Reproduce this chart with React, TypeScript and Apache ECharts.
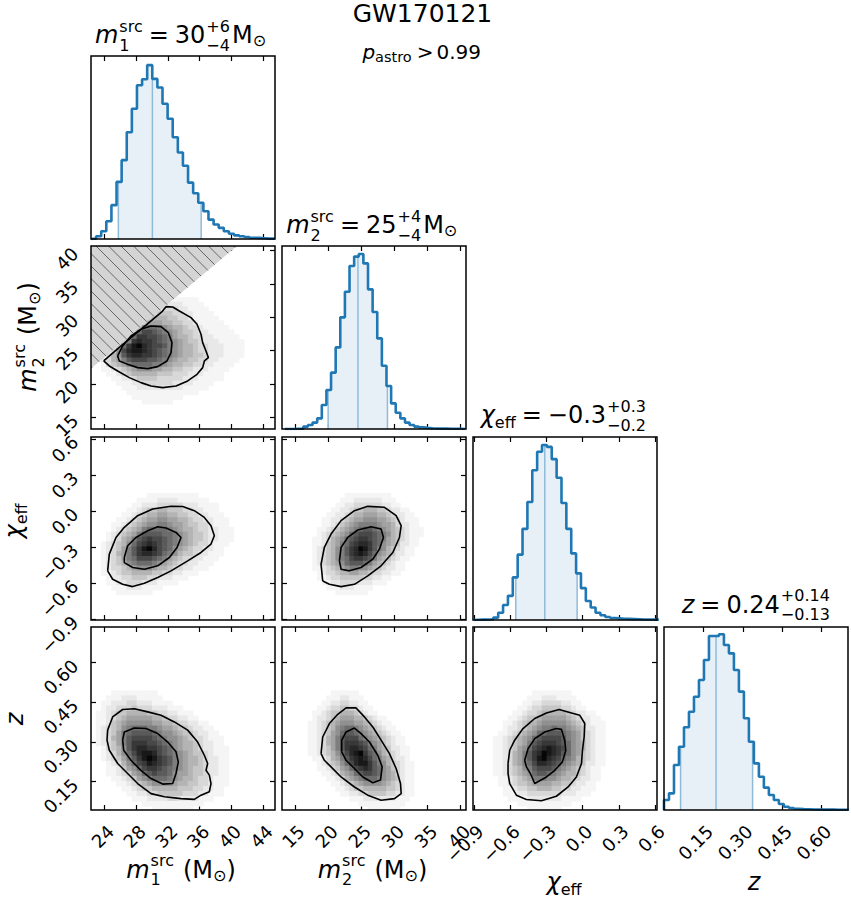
import React, { useEffect, useRef } from 'react';
import * as echarts from 'echarts';

// ---------------- axis ranges and ticks ----------------
const m1Range = [22.3, 45.5];
const m2RangeX = [13.04, 40.8];
const m2RangeY = [13.24, 40.7];
const chiRange = [-0.907, 0.616];
const zRangeX = [0.0, 0.7];
const zRangeY = [0.043, 0.735];

const m1Ticks = [24, 28, 32, 36, 40, 44];
const m2Ticks = [15, 20, 25, 30, 35, 40];
const chiTicks = [-0.9, -0.6, -0.3, 0.0, 0.3, 0.6];
const zTicks = [0.15, 0.3, 0.45, 0.6];

// ---------------- 1-D marginal histograms (height as fraction of panel) ----------------
const m1Bins = [22.3, 0.644]; // first edge, bin width
const m1Hist = [0.002, 0.015, 0.042, 0.097, 0.185, 0.312, 0.431, 0.583, 0.712, 0.84, 0.873, 0.95, 0.875, 0.828, 0.739, 0.657, 0.556, 0.473, 0.4, 0.308, 0.25, 0.198, 0.152, 0.106, 0.079, 0.061, 0.042, 0.029, 0.02, 0.015, 0.011, 0.007, 0.006, 0.004, 0.002, 0.002];
const m2Bins = [13.47, 0.697];
const m2Hist = [0, 0, 0.001, 0.002, 0.013, 0.022, 0.035, 0.058, 0.131, 0.213, 0.308, 0.446, 0.61, 0.75, 0.891, 0.942, 0.956, 0.905, 0.763, 0.639, 0.495, 0.346, 0.235, 0.14, 0.089, 0.058, 0.035, 0.022, 0.013, 0.009, 0.006, 0.004, 0.003, 0.002, 0.002, 0.001, 0.001, 0.001, 0.0];
const chiBins = [-0.9, 0.0403];
const chiHist = [0.001, 0.002, 0.003, 0.004, 0.013, 0.04, 0.082, 0.132, 0.233, 0.357, 0.498, 0.645, 0.818, 0.919, 0.956, 0.946, 0.879, 0.777, 0.639, 0.498, 0.364, 0.255, 0.174, 0.104, 0.068, 0.04, 0.026, 0.016, 0.011, 0.009, 0.007, 0.006, 0.005, 0.004, 0.003, 0.003, 0.002, 0.002];
const zBins = [0.0, 0.019];
const zHist = [0.055, 0.091, 0.246, 0.346, 0.452, 0.537, 0.619, 0.71, 0.82, 0.951, 0.951, 0.96, 0.902, 0.856, 0.765, 0.647, 0.501, 0.373, 0.255, 0.182, 0.122, 0.082, 0.055, 0.033, 0.018, 0.011, 0.007, 0.005, 0.004, 0.003, 0.003, 0.002, 0.002, 0.002, 0.001, 0.001, 0.001];

// lower 90% bound, median, upper 90% bound
const m1Interval = [25.75, 30.04, 36.19];
const m2Interval = [20.0, 24.5, 28.95];
const chiInterval = [-0.553, -0.313, -0.045];
const zInterval = [0.063, 0.198, 0.337];

// ---------------- 2-D densities (hex digit = grey level; first row = top bin row) ----------------
const m1m2Origin = [1, 27]; // first column bin index, top row bin index
const m1m2Density = [
  '00000000000000011111000000000',
  '00000000000001222111100000000',
  '00000000000023332211110000000',
  '00000000000344433221111000000',
  '00000000004555443321111100000',
  '00000000046665544332111110000',
  '00000000589987655433211111000',
  '000000059bba98765443221111100',
  '00000049ccbba9865543322111110',
  '0000048cdccba9876544322211111',
  '000049cefdcbba876554332221111',
  '00037bdeedcba9876554332221111',
  '00357acddccba9876554432221111',
  '023568abbbaa98765544332211110',
  '01345689999887655443322111100',
  '01123456777665544332221111000',
  '00112345555544433322211110000',
  '00011223444433333222111110000',
  '00001112233333322221111000000',
  '00000111222222222111110000000',
  '00000011111111111111000000000',
  '00000001111111111000000000000',
  '00000000011111100000000000000',
];
const m1chiOrigin = [1, 25];
const m1chiDensity = [
  '00000000001111111111000000000',
  '00000000111122221111110000000',
  '00000001122233333222111100000',
  '00000011234455444332211100000',
  '00000112345566554433221110000',
  '00001123456677665543322111000',
  '00011234567788766544332111000',
  '00012345689999876554332211100',
  '001234568aaaa9987654432211100',
  '00123568abcbba987654432211100',
  '01234579bcdcba987654332111000',
  '0123468acefdba976543322110000',
  '0123568acddcb9875443221110000',
  '01234689bbba98654332211100000',
  '01234578999876543322111000000',
  '01233456777655433221110000000',
  '01123445555443322111000000000',
  '00122334443322211100000000000',
  '00112233322211110000000000000',
  '00011122211110000000000000000',
  '00001111111000000000000000000',
];
const m2chiOrigin = [5, 25];
const m2chiDensity = [
  '00000000111111111100000000',
  '00000001112222221110000000',
  '00000011223333332211000000',
  '00000112234455544322110000',
  '00001122345566655432211000',
  '00011223456677766543211100',
  '00011234567888876653221100',
  '001123456789aa987654321110',
  '0012345679abbba98754321110',
  '011235679abccba98654321100',
  '011245689bcddca97654221100',
  '01234578acdfeca87543211000',
  '01234578acdedb976542211000',
  '012345789bccba865432110000',
  '012345679aaa98654321100000',
  '01123456788776543221100000',
  '00123345566554332211000000',
  '00112334444433221100000000',
  '00011223333222111000000000',
  '00001112221111000000000000',
  '00000011111110000000000000',
];
const m1zOrigin = [1, 25];
const m1zDensity = [
  '00011111111100000000000000000',
  '00111222111110000000000000000',
  '01122233222111100000000000000',
  '01223334333222111000000000000',
  '11234455554433221110000000000',
  '11234566666554332211000000000',
  '11245677777665543322110000000',
  '12345789998876654432211000000',
  '1234689aaaa987765443221100000',
  '123568abbbba98776543321110000',
  '123468acccbba9876554322110000',
  '013457acddccba976554322111000',
  '0123579bdeedba987654432111000',
  '0123468acefecba87655432211000',
  '00123579bcedcba87655432211000',
  '001124679bccba987654432211000',
  '0011234679abaa976654432211000',
  '00011234678999876554332111000',
  '00001123456777765544332111000',
  '00000112344555554443322110000',
  '00000011223344444333221110000',
  '00000001112222332222111000000',
  '00000000011111111111100000000',
  '00000000000111111110000000000',
];
const m2zOrigin = [5, 25];
const m2zDensity = [
  '00000111111000000000000000',
  '00001112211100000000000000',
  '00011223322110000000000000',
  '00112334433211000000000000',
  '01123445554321100000000000',
  '01223456665543211000000000',
  '11234567776654321100000000',
  '11234578998765432110000000',
  '11234679aa9876543211000000',
  '1123568abbb987654321100000',
  '1123568acccba8764321100000',
  '1123468acddcb9865422110000',
  '11234579bdefca975432110000',
  '01123568acdedb986532210000',
  '001234579bdeeca87543211000',
  '0011234679bcdca97643211000',
  '00011235679abba97653211000',
  '00001123567899987654211000',
  '00000112345677776543211000',
  '00000011234455555443211000',
  '00000001122334444332211000',
  '00000000011122222221110000',
  '00000000000111111111100000',
  '00000000000001111111000000',
];
const chizOrigin = [3, 25];
const chizDensity = [
  '0000000001111111100000000',
  '0000000011122211110000000',
  '0000000112233332211000000',
  '0000001123344443321100000',
  '0000011233455555432211000',
  '0000112344566666543221100',
  '0001123455677777654321110',
  '0001223456788988765422110',
  '001123456799aaa9876432110',
  '0112345679abbbba876432110',
  '011234568abcccba976532110',
  '011234679bcdedcb976532110',
  '01123568acdfedca976432110',
  '01123568acefdcb9875432110',
  '011235689bddcba8765422110',
  '011234578abbba87654321100',
  '0112345679aa9876554321100',
  '0011234568887765543221100',
  '0011234456666554432211000',
  '0001123344555443322111000',
  '0001112233333332221110000',
  '0000111122222221111000000',
  '0000001111111111100000000',
  '0000000011111110000000000',
];

// ---------------- contours (inner ~50%, outer ~90%) ----------------
const m1m2Outer = [[23.9, 23.45], [25.5, 25.1], [27.5, 27.1], [29.5, 29.1], [31.3, 30.9], [31.76, 31.6], [32.6, 31.55], [33.44, 30.95], [34.91, 29.95], [35.67, 28.95], [36.17, 27.45], [36.38, 26.2], [36.8, 24.95], [37.1, 23.95], [36.6, 23.45], [36.38, 22.45], [35.67, 21.45], [34.49, 20.45], [33.02, 19.7], [31.34, 19.45], [29.87, 19.7], [28.6, 20.2], [27.13, 20.95], [25.66, 21.95], [24.61, 22.7], [23.9, 23.45]];
const m1m2Inner = [[25.66, 24.2], [26.29, 25.7], [27.34, 27.2], [28.6, 28.2], [29.87, 28.7], [31.13, 28.6], [32.05, 27.7], [32.51, 26.2], [32.39, 24.7], [31.88, 23.45], [30.71, 22.6], [29.45, 22.3], [28.18, 22.45], [26.92, 22.95], [25.87, 23.45], [25.66, 24.2]];
const m1chiOuter = [[24.4, -0.498], [24.61, -0.359], [25.45, -0.22], [26.5, -0.136], [28.18, -0.039], [30.08, 0.017], [32.39, 0.039], [33.86, 0.037], [35.33, 0.003], [36.59, -0.053], [37.43, -0.122], [37.85, -0.206], [37.43, -0.275], [36.17, -0.345], [34.49, -0.415], [32.39, -0.498], [30.71, -0.554], [29.03, -0.601], [27.55, -0.629], [26.29, -0.61], [25.03, -0.568], [24.4, -0.498]];
const m1chiInner = [[26.5, -0.387], [26.92, -0.289], [27.97, -0.22], [29.45, -0.164], [30.71, -0.131], [31.76, -0.142], [33.02, -0.178], [33.65, -0.22], [33.15, -0.303], [32.18, -0.387], [30.71, -0.456], [29.03, -0.484], [27.55, -0.47], [26.5, -0.429], [26.5, -0.387]];
const m2chiOuter = [[19.18, -0.582], [18.93, -0.443], [19.43, -0.303], [20.44, -0.192], [21.95, -0.08], [23.97, 0.003], [25.98, 0.039], [28.5, 0.031], [30.26, -0.039], [31.02, -0.122], [30.76, -0.22], [29.76, -0.345], [27.99, -0.456], [25.98, -0.54], [23.97, -0.61], [21.95, -0.629], [20.19, -0.61], [19.18, -0.582]];
const m2chiInner = [[21.7, -0.415], [21.95, -0.303], [22.96, -0.22], [24.47, -0.158], [26.48, -0.131], [27.99, -0.15], [28.35, -0.22], [27.74, -0.317], [26.74, -0.401], [24.97, -0.47], [23.21, -0.498], [21.95, -0.484], [21.7, -0.415]];
const m1zOuter = [[24.4, 0.345], [25.03, 0.395], [26.29, 0.423], [27.76, 0.426], [29.45, 0.414], [31.13, 0.401], [32.81, 0.376], [34.49, 0.345], [35.75, 0.3], [36.59, 0.25], [37.01, 0.219], [36.8, 0.193], [37.22, 0.175], [37.43, 0.143], [37.22, 0.112], [36.17, 0.099], [35.33, 0.083], [33.65, 0.086], [31.55, 0.093], [29.87, 0.105], [28.18, 0.143], [26.92, 0.181], [25.66, 0.219], [24.61, 0.269], [24.32, 0.307], [24.4, 0.345]];
const m1zInner = [[26.29, 0.307], [26.5, 0.338], [27.76, 0.353], [29.24, 0.351], [30.71, 0.332], [31.97, 0.3], [33.02, 0.263], [33.31, 0.225], [33.02, 0.181], [32.6, 0.143], [31.34, 0.141], [29.87, 0.162], [28.6, 0.193], [27.34, 0.231], [26.42, 0.269], [26.29, 0.307]];
const m2zOuter = [[18.93, 0.256], [19.18, 0.319], [20.19, 0.37], [21.45, 0.405], [22.71, 0.429], [24.22, 0.429], [25.48, 0.395], [26.74, 0.357], [27.99, 0.307], [29.25, 0.256], [30.26, 0.2], [30.92, 0.143], [31.02, 0.105], [30.01, 0.086], [27.99, 0.08], [25.98, 0.099], [23.97, 0.13], [21.95, 0.168], [20.44, 0.206], [19.43, 0.231], [18.93, 0.256]];
const m2zInner = [[22.05, 0.263], [22.05, 0.307], [22.71, 0.338], [23.97, 0.353], [24.97, 0.332], [26.23, 0.3], [27.49, 0.25], [28.15, 0.206], [27.9, 0.156], [26.74, 0.146], [25.23, 0.168], [23.97, 0.2], [22.71, 0.231], [22.05, 0.263]];
const chizOuter = [[-0.617, 0.219], [-0.603, 0.269], [-0.562, 0.307], [-0.493, 0.351], [-0.396, 0.389], [-0.299, 0.41], [-0.194, 0.423], [-0.092, 0.41], [-0.023, 0.401], [0.018, 0.37], [0.013, 0.319], [-0.001, 0.269], [-0.009, 0.219], [-0.051, 0.168], [-0.12, 0.13], [-0.217, 0.095], [-0.341, 0.078], [-0.465, 0.083], [-0.548, 0.099], [-0.603, 0.143], [-0.617, 0.181], [-0.617, 0.219]];
const chizInner = [[-0.479, 0.231], [-0.451, 0.275], [-0.396, 0.313], [-0.313, 0.338], [-0.217, 0.351], [-0.175, 0.348], [-0.148, 0.307], [-0.139, 0.269], [-0.167, 0.225], [-0.23, 0.193], [-0.299, 0.168], [-0.396, 0.143], [-0.432, 0.181], [-0.465, 0.206], [-0.479, 0.231]];

// ---------------- layout & style ----------------
const FONT = 'DejaVu Sans';
const COL_X = [91, 282, 473, 664];
const ROW_Y = [56, 246, 437, 627];
const PW = 184;
const PH = 183;
const HIST_BLUE = '#1f77b4';
const HIST_FILL = '#e8f0f7';
const HIST_MARK = '#8fbbd9';
const GREYS = [255, 245, 232, 216, 198, 180, 162, 144, 126, 108, 90, 72, 56, 40, 24, 6];

const minus = (t: string) => t.replace('-', '\u2212');
const VARS: any = {
  m1: { x: m1Range, y: m1Range, ticks: m1Ticks, fmt: (v: number) => String(v), bins: m1Bins, hist: m1Hist, ci: m1Interval },
  m2: { x: m2RangeX, y: m2RangeY, ticks: m2Ticks, fmt: (v: number) => String(v), bins: m2Bins, hist: m2Hist, ci: m2Interval },
  chi: { x: chiRange, y: chiRange, ticks: chiTicks, fmt: (v: number) => minus(v.toFixed(1)), bins: chiBins, hist: chiHist, ci: chiInterval },
  z: { x: zRangeX, y: zRangeY, ticks: zTicks, fmt: (v: number) => v.toFixed(2), bins: zBins, hist: zHist, ci: zInterval },
};
const ORDER = ['m1', 'm2', 'chi', 'z'];
const PAIRS: any = {
  m1_m2: { grid: m1m2Density, origin: m1m2Origin, outer: m1m2Outer, inner: m1m2Inner },
  m1_chi: { grid: m1chiDensity, origin: m1chiOrigin, outer: m1chiOuter, inner: m1chiInner },
  m2_chi: { grid: m2chiDensity, origin: m2chiOrigin, outer: m2chiOuter, inner: m2chiInner },
  m1_z: { grid: m1zDensity, origin: m1zOrigin, outer: m1zOuter, inner: m1zInner },
  m2_z: { grid: m2zDensity, origin: m2zOrigin, outer: m2zOuter, inner: m2zInner },
  chi_z: { grid: chizDensity, origin: chizOrigin, outer: chizOuter, inner: chizInner },
};

// ---------------- helpers ----------------
function histValue(bins: number[], hist: number[], x: number) {
  const k = Math.floor((x - bins[0]) / bins[1]);
  return hist[Math.max(0, Math.min(hist.length - 1, k))];
}
function histOutline(bins: number[], hist: number[]) {
  const pts: number[][] = [[bins[0], 0]];
  hist.forEach((c, k) => pts.push([bins[0] + k * bins[1], c]));
  const end = bins[0] + hist.length * bins[1];
  pts.push([end, hist[hist.length - 1]]);
  pts.push([end, 0]);
  return pts;
}
function histFill(bins: number[], hist: number[], lo: number, hi: number) {
  const pts: number[][] = [[lo, histValue(bins, hist, lo)]];
  hist.forEach((c, k) => {
    const e = bins[0] + k * bins[1];
    if (e > lo && e < hi) pts.push([e, c]);
  });
  pts.push([hi, histValue(bins, hist, hi)]);
  return pts;
}
function densityCells(grid: string[], origin: number[], xb: number[], yb: number[]) {
  const out: number[][] = [];
  grid.forEach((row, ri) => {
    const j = origin[1] - ri;
    for (let c = 0; c < row.length; c++) {
      const v = parseInt(row[c], 16);
      if (v > 0) out.push([xb[0] + (origin[0] + c + 0.5) * xb[1], yb[0] + (j + 0.5) * yb[1], v]);
    }
  });
  return out;
}

let measureCtx: CanvasRenderingContext2D | null = null;
function tw(t: string, size: number, it?: boolean) {
  if (!measureCtx) measureCtx = document.createElement('canvas').getContext('2d');
  measureCtx!.font = `${it ? 'italic ' : ''}${size}px "${FONT}"`;
  return measureCtx!.measureText(t).width;
}
function textEl(p: any, x: number) {
  return {
    type: 'text',
    x,
    y: -(p.dy || 0) - 0.346 * p.s,
    style: {
      text: p.t, fontSize: p.s, fontFamily: FONT, fontStyle: p.it ? 'italic' : 'normal',
      lineHeight: Math.round(p.s * 0.8),
      fill: '#000', textAlign: 'left', textVerticalAlign: 'middle', align: 'left', verticalAlign: 'middle',
    },
  };
}
function mathGroup(items: any[], x: number, y: number, rotation = 0) {
  let cx = 0;
  const children: any[] = [];
  items.forEach((it) => {
    if (it.sp !== undefined) { cx += it.sp; return; }
    if (it.stack) {
      let w = 0;
      it.stack.forEach((p: any) => { children.push(textEl(p, cx)); w = Math.max(w, tw(p.t, p.s, p.it)); });
      cx += w;
      return;
    }
    children.push(textEl(it, cx));
    cx += tw(it.t, it.s, it.it);
  });
  children.forEach((c) => { c.x -= cx / 2; });
  return { type: 'group', x, y, rotation, children, z: 100 };
}

const S = 24;
const s = 16;
const SUP = 11.5;
const SUB = -7.5;
const mSub = (n: string) => [{ t: 'm', s: S, it: true }, { sp: 1 }, { stack: [{ t: 'src', s, dy: SUP }, { t: n, s, dy: SUB }] }];
const chiSym = [{ t: '\u03c7', s: S, it: true }, { t: 'eff', s, dy: -5 }];
const sun = [{ t: 'M', s: S }, { t: '\u2299', s, dy: -3 }];
const eq = [{ sp: 6 }, { t: '=', s: S }, { sp: 6 }];
const pm = (a: string, b: string) => ({ stack: [{ t: a, s, dy: SUP }, { t: b, s, dy: SUB }] });
const unit = [{ sp: 9 }, { t: '(', s: S }, ...sun, { t: ')', s: S }];

const TEXTS = [
  { items: [{ t: 'GW170121', s: 25 }], x: 422.5, y: 21.7, r: 0 },
  { items: [{ t: 'p', s: 20, it: true }, { t: 'astro', s: 14.5, dy: -3.5 }, { sp: 5 }, { t: '>', s: 20 }, { sp: 3 }, { t: '0.99', s: 20 }], x: 421.7, y: 59, r: 0 },
  { items: [...mSub('1'), ...eq, { t: '30', s: S }, { sp: 1 }, pm('+6', '\u22124'), { sp: 2 }, ...sun], x: 180.5, y: 43.3, r: 0 },
  { items: [...mSub('2'), ...eq, { t: '25', s: S }, { sp: 1 }, pm('+4', '\u22124'), { sp: 2 }, ...sun], x: 371.7, y: 233.3, r: 0 },
  { items: [...chiSym, ...eq, { t: '\u22120.3', s: S }, { sp: 1 }, pm('+0.3', '\u22120.2')], x: 563.3, y: 423.5, r: 0 },
  { items: [{ t: 'z', s: S, it: true }, ...eq, { t: '0.24', s: S }, { sp: 1 }, pm('+0.14', '\u22120.13')], x: 755.8, y: 613, r: 0 },
  { items: [...mSub('1'), ...unit], x: 181, y: 878, r: 0 },
  { items: [...mSub('2'), ...unit], x: 372.5, y: 878, r: 0 },
  { items: [...chiSym], x: 564, y: 890, r: 0 },
  { items: [{ t: 'z', s: S, it: true }], x: 754, y: 890, r: 0 },
  { items: [...mSub('2'), ...unit], x: 36.7, y: 337, r: Math.PI / 2 },
  { items: [...chiSym], x: 22, y: 521, r: Math.PI / 2 },
  { items: [{ t: 'z', s: S, it: true }], x: 23, y: 719, r: Math.PI / 2 },
];

function tickAxis(gi: number, range: number[], v: any, pos: string, label: any) {
  return {
    type: 'value', gridIndex: gi, position: pos, min: range[0], max: range[1],
    axisLine: { show: false, onZero: false }, splitLine: { show: false },
    axisTick: { show: true, inside: true, length: 5, lineStyle: { color: '#000', width: 1.2 }, customValues: v.ticks },
    axisLabel: label
      ? Object.assign({ show: true, customValues: v.ticks, formatter: v.fmt, rotate: 45, fontSize: 18, fontFamily: FONT, color: '#000' }, label)
      : { show: false },
  };
}

function buildOption() {
  const grid: any[] = [];
  const xAxis: any[] = [];
  const yAxis: any[] = [];
  const series: any[] = [];
  const graphic: any[] = [];
  let p = 0;
  for (let r = 0; r < 4; r++) {
    for (let c = 0; c <= r; c++) {
      const left = COL_X[c];
      const top = ROW_Y[r];
      grid.push({ left, top, width: PW, height: PH, containLabel: false, outerBoundsMode: 'none' });
      const xv = VARS[ORDER[c]];
      const yv = VARS[ORDER[r]];
      const diag = r === c;
      const xLab = r === 3 ? { align: 'right', verticalAlign: 'top', margin: 12 } : null;
      xAxis.push(tickAxis(p, xv.x, xv, 'bottom', xLab));
      xAxis.push(tickAxis(p, xv.x, xv, 'top', null));
      if (diag) {
        yAxis.push({ type: 'value', gridIndex: p, min: 0, max: 1, show: false, axisLine: { onZero: false } });
        yAxis.push({ type: 'value', gridIndex: p, min: 0, max: 1, show: false, position: 'right', axisLine: { onZero: false } });
        const ax = { xAxisIndex: 2 * p, yAxisIndex: 2 * p };
        series.push(Object.assign({
          type: 'line', step: 'end', symbol: 'none', silent: true, z: 1,
          data: histFill(xv.bins, xv.hist, xv.ci[0], xv.ci[2]),
          lineStyle: { width: 0, opacity: 0 }, areaStyle: { color: HIST_FILL, opacity: 1 },
        }, ax));
        xv.ci.forEach((q: number) => {
          series.push(Object.assign({
            type: 'line', symbol: 'none', silent: true, z: 2,
            data: [[q, 0], [q, histValue(xv.bins, xv.hist, q)]],
            lineStyle: { color: HIST_MARK, width: 1.5 },
          }, ax));
        });
        series.push(Object.assign({
          type: 'line', step: 'end', symbol: 'none', silent: true, z: 3,
          data: histOutline(xv.bins, xv.hist),
          lineStyle: { color: HIST_BLUE, width: 2.6 },
        }, ax));
      } else {
        const yLab = c === 0 ? { margin: 16 } : null;
        yAxis.push(tickAxis(p, yv.y, yv, 'left', yLab));
        yAxis.push(tickAxis(p, yv.y, yv, 'right', null));
        const ax = { xAxisIndex: 2 * p, yAxisIndex: 2 * p };
        const pair = PAIRS[ORDER[c] + '_' + ORDER[r]];
        const xb = xv.bins;
        const yb = yv.bins;
        series.push(Object.assign({
          type: 'custom', silent: true, z: 1,
          data: densityCells(pair.grid, pair.origin, xb, yb),
          renderItem: (params: any, api: any) => {
            const x = api.value(0);
            const y = api.value(1);
            const v = api.value(2);
            const a = api.coord([x - xb[1] / 2, y + yb[1] / 2]);
            const b = api.coord([x + xb[1] / 2, y - yb[1] / 2]);
            const rect = echarts.graphic.clipRectByRect(
              { x: a[0] - 0.3, y: a[1] - 0.3, width: b[0] - a[0] + 0.6, height: b[1] - a[1] + 0.6 },
              { x: params.coordSys.x, y: params.coordSys.y, width: params.coordSys.width, height: params.coordSys.height },
            );
            if (!rect) return null;
            const g = GREYS[v];
            return { type: 'rect', shape: rect, style: { fill: `rgb(${g},${g},${g})` } };
          },
        }, ax));
        if (ORDER[c] === 'm1' && ORDER[r] === 'm2') {
          series.push(Object.assign({
            type: 'custom', silent: true, z: 2,
            data: [[m1Range[0], m2RangeY[1]]],
            renderItem: (params: any, api: any) => {
              const A = api.coord([m1Range[0], m1Range[0]]);
              const B = api.coord([m2RangeY[1], m2RangeY[1]]);
              const C = api.coord([m1Range[0], m2RangeY[1]]);
              const tri = [A, B, C];
              const children: any[] = [{ type: 'polygon', shape: { points: tri }, style: { fill: '#d4d4d4' } }];
              const ks = tri.map((q: number[]) => q[1] - q[0]);
              const step = 12.5;
              for (let k = Math.ceil(Math.min(...ks) / step) * step; k <= Math.max(...ks); k += step) {
                const pts: number[][] = [];
                for (let e = 0; e < 3; e++) {
                  const P = tri[e];
                  const Q = tri[(e + 1) % 3];
                  const fp = P[1] - P[0] - k;
                  const fq = Q[1] - Q[0] - k;
                  if ((fp <= 0 && fq > 0) || (fp > 0 && fq <= 0)) {
                    const t = fp / (fp - fq);
                    pts.push([P[0] + t * (Q[0] - P[0]), P[1] + t * (Q[1] - P[1])]);
                  }
                }
                if (pts.length >= 2) {
                  children.push({ type: 'line', shape: { x1: pts[0][0], y1: pts[0][1], x2: pts[1][0], y2: pts[1][1] }, style: { stroke: '#4a4a4a', lineWidth: 0.8 } });
                }
              }
              return { type: 'group', children };
            },
          }, ax));
        }
        [pair.outer, pair.inner].forEach((cont: number[][]) => {
          series.push(Object.assign({
            type: 'line', symbol: 'none', silent: true, z: 4, data: cont,
            lineStyle: { color: '#000', width: 1.6 },
          }, ax));
        });
      }
      graphic.push({
        type: 'rect', z: 100, silent: true,
        shape: { x: left, y: top, width: PW, height: PH },
        style: { fill: 'none', stroke: '#000', lineWidth: 1.5 },
      });
      p++;
    }
  }
  TEXTS.forEach((t) => graphic.push(mathGroup(t.items, t.x, t.y, t.r)));
  return { animation: false, backgroundColor: '#fff', grid, xAxis, yAxis, series, graphic: { elements: graphic } };
}

export default function App() {
  const ref = useRef<HTMLDivElement>(null);
  useEffect(() => {
    const chart = echarts.init(ref.current!, undefined, { renderer: 'svg' });
    chart.setOption(buildOption() as any);
    return () => chart.dispose();
  }, []);
  return <div ref={ref} style={{ position: 'absolute', left: 0, top: 0, width: 851, height: 902, background: '#fff' }} />;
}
